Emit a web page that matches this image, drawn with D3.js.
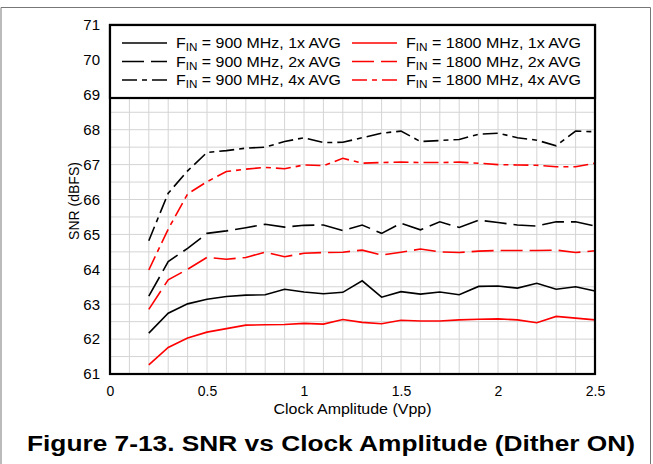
<!DOCTYPE html>
<html><head><meta charset="utf-8">
<script src="https://cdn.jsdelivr.net/npm/d3@7"></script>
<style>
html,body{margin:0;padding:0;background:#fff;}
svg{display:block;font-family:"Liberation Sans",Arial,sans-serif;}
</style></head>
<body>
<svg id="chart" width="653" height="464"></svg>
<script>
const xValues = [0.2,0.3,0.4,0.5,0.6,0.7,0.8,0.9,1.0,1.1,1.2,1.3,1.4,1.5,1.6,1.7,1.8,1.9,2.0,2.1,2.2,2.3,2.4,2.5];
const snr900_1x = [62.17,62.74,63.01,63.14,63.22,63.26,63.27,63.43,63.35,63.30,63.34,63.67,63.20,63.36,63.29,63.35,63.27,63.51,63.52,63.46,63.60,63.43,63.50,63.38];
const snr900_2x = [63.23,64.22,64.60,65.03,65.10,65.19,65.29,65.21,65.26,65.27,65.11,65.27,65.03,65.32,65.13,65.36,65.20,65.41,65.34,65.27,65.24,65.36,65.36,65.24];
const snr900_4x = [64.82,66.18,66.82,67.35,67.40,67.47,67.50,67.66,67.77,67.63,67.64,67.77,67.90,67.96,67.66,67.69,67.72,67.87,67.90,67.77,67.70,67.54,67.96,67.94];
const snr1800_1x = [61.26,61.76,62.03,62.20,62.30,62.40,62.41,62.42,62.45,62.43,62.56,62.48,62.44,62.54,62.52,62.52,62.55,62.57,62.58,62.55,62.47,62.65,62.60,62.55];
const snr1800_2x = [62.85,63.70,64.00,64.34,64.29,64.34,64.49,64.36,64.46,64.48,64.49,64.55,64.41,64.49,64.58,64.50,64.48,64.52,64.54,64.54,64.54,64.55,64.48,64.53];
const snr1800_4x = [63.98,65.15,66.16,66.51,66.80,66.87,66.92,66.88,66.99,66.97,67.18,67.04,67.06,67.07,67.06,67.06,67.07,67.04,67.00,66.99,66.98,66.94,66.94,67.04];
const seriesNames = ["900 MHz, 1x AVG","900 MHz, 2x AVG","900 MHz, 4x AVG","1800 MHz, 1x AVG","1800 MHz, 2x AVG","1800 MHz, 4x AVG"];
const xTicks = [0,0.5,1,1.5,2,2.5];
const xTickLabels = ["0","0.5","1","1.5","2","2.5"];
const yTicks = [61,62,63,64,65,66,67,68,69,70,71];
const xTitle = "Clock Amplitude (Vpp)";
const yTitle = "SNR (dBFS)";
const figTitle = "Figure 7-13. SNR vs Clock Amplitude (Dither ON)";

const series = [
  {name: seriesNames[0], values: snr900_1x, color: "#000", dash: null},
  {name: seriesNames[1], values: snr900_2x, color: "#000", dash: "22,7"},
  {name: seriesNames[2], values: snr900_4x, color: "#000", dash: "15,5,5,5"},
  {name: seriesNames[3], values: snr1800_1x, color: "#ff0000", dash: null},
  {name: seriesNames[4], values: snr1800_2x, color: "#ff0000", dash: "22,7"},
  {name: seriesNames[5], values: snr1800_4x, color: "#ff0000", dash: "15,5,5,5"}
];

const svg = d3.select("#chart");
const L = 110, R = 595, T = 25, B = 374;
const x = d3.scaleLinear().domain([0,2.5]).range([L,R]);
const y = d3.scaleLinear().domain([61,71]).range([B,T]);

// outer frame
svg.append("path").attr("d","M1,464 V7.5 H650.5 V464").attr("fill","none").attr("stroke","#777").attr("stroke-width",1);

// grid
const g = svg.append("g");
g.selectAll("line.vg").data(d3.range(1,25).map(i=>i*0.1)).enter().append("line")
  .attr("x1",d=>x(d)).attr("x2",d=>x(d)).attr("y1",T).attr("y2",B)
  .attr("stroke","#d4d4d4").attr("stroke-width",1);
g.selectAll("line.hg").data(d3.range(1,20).map(i=>61+i*0.5)).enter().append("line")
  .attr("x1",L).attr("x2",R).attr("y1",d=>y(d)).attr("y2",d=>y(d))
  .attr("stroke","#d4d4d4").attr("stroke-width",1);

// lines
const line = d3.line().x((d,i)=>x(xValues[i])).y(d=>y(d));
series.forEach(s=>{
  svg.append("path").datum(s.values).attr("d",line)
    .attr("fill","none").attr("stroke",s.color).attr("stroke-width",1.6)
    .attr("stroke-dasharray",s.dash);
});

// frame
svg.append("rect").attr("x",L).attr("y",T).attr("width",R-L).attr("height",B-T)
  .attr("fill","none").attr("stroke","#000").attr("stroke-width",2.2);

// legend box
const lg = svg.append("g");
lg.append("rect").attr("x",L).attr("y",T).attr("width",R-L).attr("height",73)
  .attr("fill","#fff").attr("stroke","#000").attr("stroke-width",2.2);
series.forEach((s,i)=>{
  const col = Math.floor(i/3), row = i%3;
  const lx = col===0 ? 122 : 352;
  const ly = 43 + row*18.5;
  lg.append("line").attr("x1",lx).attr("x2",lx+45).attr("y1",ly).attr("y2",ly)
    .attr("stroke",s.color).attr("stroke-width",1.6).attr("stroke-dasharray",s.dash);
  const t = lg.append("text").attr("x",lx+54).attr("y",ly+5).attr("font-size",15).attr("fill","#000")
    .attr("textLength", col===0 ? 165 : 175).attr("lengthAdjust","spacingAndGlyphs");
  t.append("tspan").text("F");
  t.append("tspan").attr("font-size",11).attr("dy",3).text("IN");
  t.append("tspan").attr("dy",-3).text(" = " + s.name);
});

// axes
const xAxis = d3.axisBottom(x).tickValues(xTicks).tickFormat((d,i)=>xTickLabels[i]).tickSize(0).tickPadding(12);
const xa = svg.append("g").attr("transform",`translate(0,${B})`).call(xAxis);
xa.select(".domain").remove();
xa.selectAll("text").attr("font-size",14).attr("font-family","Liberation Sans, Arial, sans-serif").attr("fill","#000");

const yAxis = d3.axisLeft(y).tickValues(yTicks).tickFormat(d3.format("d")).tickSize(0).tickPadding(10);
const ya = svg.append("g").attr("transform",`translate(${L},0)`).call(yAxis);
ya.select(".domain").remove();
ya.selectAll("text").attr("font-size",15).attr("font-family","Liberation Sans, Arial, sans-serif").attr("fill","#000");

svg.append("text").attr("x",(L+R)/2).attr("y",414).attr("text-anchor","middle")
  .attr("font-size",14).attr("textLength",158).attr("lengthAdjust","spacingAndGlyphs").text(xTitle);
svg.append("text").attr("transform",`translate(79,201) rotate(-90)`).attr("text-anchor","middle")
  .attr("font-size",14).text(yTitle);
svg.append("text").attr("x",331).attr("y",451).attr("text-anchor","middle")
  .attr("font-size",22).attr("font-weight","bold").attr("textLength",608).attr("lengthAdjust","spacingAndGlyphs").text(figTitle);
</script>
</body></html>
